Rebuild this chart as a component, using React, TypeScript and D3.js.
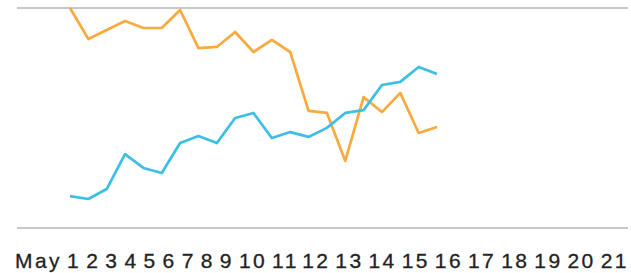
import React from "react";
import * as d3 from "d3";

// daily values, May 1 - May 21
const days = d3.range(1, 22);
const orangeSeries = [100, 85.9, 90, 94.1, 90.9, 90.9, 99.1, 81.8, 82.3, 89.1, 80, 85.5, 80, 53.2, 52.3, 30.5, 59.5, 52.7, 61.4, 43.2, 45.9];
const blueSeries = [14.5, 13.2, 17.7, 33.6, 27.3, 25, 38.6, 41.8, 38.6, 50, 52.3, 40.9, 43.6, 41.4, 45.5, 52.3, 53.6, 65, 66.4, 73.2, 70];
const tickLabels = ["May 1", "2", "3", "4", "5", "6", "7", "8", "9", "10", "11", "12", "13", "14", "15", "16", "17", "18", "19", "20", "21"];

const W = 631;
const H = 273;

export default function App() {
  const x = d3.scaleLinear().domain([1, 21]).range([70, 437]);
  const y = d3.scaleLinear().domain([0, 100]).range([228, 8]);

  const line = d3
    .line<number>()
    .x((_, i) => x(days[i]))
    .y((d) => y(d));

  return (
    <svg width={W} height={H} style={{ position: "absolute", left: 0, top: 0 }}>
      {/* grid lines at top and bottom */}
      {[0, 100].map((v) => (
        <line key={v} x1={17} x2={628} y1={y(v)} y2={y(v)} stroke="#c8c8c8" strokeWidth={2} />
      ))}
      <path d={line(orangeSeries) || ""} fill="none" stroke="#f9aa3c" strokeWidth={2.7} strokeLinejoin="round" />
      <path d={line(blueSeries) || ""} fill="none" stroke="#3cbfe7" strokeWidth={2.7} strokeLinejoin="round" />
      <text
        x={15}
        y={268}
        fontFamily="Liberation Sans, Arial, sans-serif"
        fontSize={21}
        fill="#222"
        stroke="#222"
        strokeWidth={0.3}
        letterSpacing={2.4}
        wordSpacing={-3}
      >
        {tickLabels.map((t, i) => (
          <tspan key={t} dx={i === 0 ? 0 : 5}>
            {t}
          </tspan>
        ))}
      </text>
    </svg>
  );
}
